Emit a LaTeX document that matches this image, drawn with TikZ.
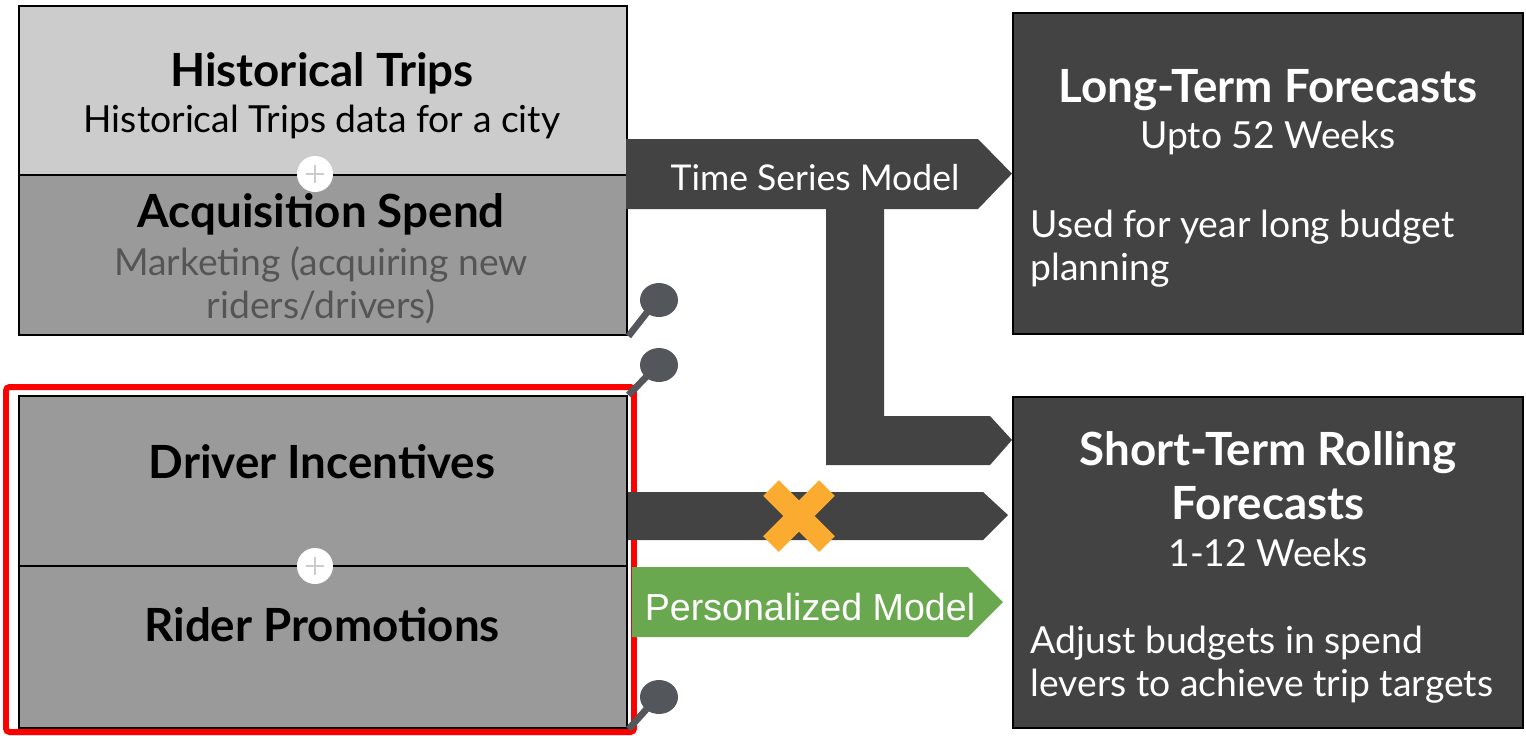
\documentclass[tikz,border=0pt]{standalone}
\usepackage{fontspec}
\setmainfont{Lato}
\newfontfamily\arialfont{Liberation Sans}
\usetikzlibrary{positioning, calc}

\definecolor{lightbox}{HTML}{CCCCCC}
\definecolor{midbox}{HTML}{9A9A9A}
\definecolor{darkbox}{HTML}{434343}
\definecolor{greenbar}{HTML}{6AA84F}
\definecolor{crossorange}{HTML}{FBAB2F}
\definecolor{pingray}{HTML}{53565B}
\definecolor{subgray}{HTML}{555555}

\begin{document}
\begin{tikzpicture}[x=0.01cm, y=-0.01cm, line join=miter,
    box/.style={draw=black, line width=0.6pt, anchor=north west, inner sep=0pt,
      minimum width=6.08cm},
    outbox/.style={draw=black, line width=0.6pt, fill=darkbox, anchor=north west,
      inner sep=0pt, minimum width=5.10cm},
    head/.style={font=\fontsize{13}{15}\selectfont\bfseries, inner sep=0pt},
    body/.style={font=\fontsize{10.6}{12.2}\selectfont, inner sep=0pt},
    plusdot/.style={circle, fill=white, minimum size=0.36cm, inner sep=0pt},
    plusbar/.style={draw=lightbox, line width=0.7pt},
    pinstem/.style={draw=pingray, line width=1.9pt},
    pinhead/.style={fill=pingray}]
  \useasboundingbox (0,0) rectangle (1526,735);

  % ================= inputs (left column) =================
  \node[box, fill=lightbox, minimum height=1.69cm] (hist) at (18,5) {};
  \node[box, fill=midbox, minimum height=1.60cm] (acq) at (18,174) {};
  \node[head] (histT) at (322,73) {Historical Trips};
  \node[body] (histS) at (322,122) {Historical Trips data for a city};
  \node[head] (acqT) at (321,214) {Acquisition Spend};
  \node[body, text=subgray, align=center] (acqS) at (321,285)
      {Marketing (acquiring new\\riders/drivers)};
  \node[plusdot] (plusA) at (315,174) {};
  \draw[plusbar] ($(plusA)+(-9,0)$) -- ($(plusA)+(9,0)$);
  \draw[plusbar] ($(plusA)+(0,-9)$) -- ($(plusA)+(0,9)$);

  % spend levers, framed in red
  \node[box, fill=midbox, minimum height=1.70cm] (drv) at (18,395) {};
  \node[box, fill=midbox, minimum height=1.62cm] (rid) at (18,565) {};
  \node[head] (drvT) at (322,462) {Driver Incentives};
  \node[head] (ridT) at (322,625) {Rider Promotions};
  \node[plusdot] (plusB) at (315,566) {};
  \draw[plusbar] ($(plusB)+(-9,0)$) -- ($(plusB)+(9,0)$);
  \draw[plusbar] ($(plusB)+(0,-9)$) -- ($(plusB)+(0,9)$);
  \draw[red, line width=1.7pt, rounded corners=1pt] (6,387) rectangle (634,732);

  % pins
  \draw[pinstem] (acq.south east) -- (652,306);
  \fill[pinhead] (659,300) ellipse (19 and 17);
  \draw[pinstem] (drv.north east) -- (652,371);
  \fill[pinhead] (659,365) ellipse (19 and 17);
  \draw[pinstem] (rid.south east) -- (652,703);
  \fill[pinhead] (659,697) ellipse (19 and 17);

  % ================= outputs (right column) =================
  \node[outbox, minimum height=3.21cm] (lterm) at (1012,12) {};
  \node[outbox, minimum height=3.31cm] (sterm) at (1012,396) {};
  \node[head, text=white] (ltermT) at (1268,90) {Long-Term Forecasts};
  \node[body, text=white] (ltermS) at (1268,138) {Upto 52 Weeks};
  \node[body, text=white, align=left, anchor=west] (ltermB) at (1030,249)
      {Used for year long budget\\planning};
  \node[head, text=white, align=center, font=\fontsize{13}{15.4}\selectfont\bfseries]
      (stermT) at (1268,476) {Short-Term Rolling\\Forecasts};
  \node[body, text=white] (stermS) at (1268,553) {1-12 Weeks};
  \node[body, text=white, align=left, anchor=west] (stermB) at (1030,665)
      {Adjust budgets in spend\\levers to achieve trip targets};

  % ================= models =================
  % time series arrow, branching down to the rolling forecasts
  \fill[darkbox] (626,139) -- (978,139) -- (lterm.west) -- (978,209) -- (884,209)
      -- (884,416) -- (990,416) -- (1012,440) -- (990,465) -- (826,465)
      -- (826,209) -- (626,209) -- cycle;
  \node[body, text=white, font=\fontsize{10.1}{12}\selectfont] (tsm) at (815,178)
      {Time Series Model};

  % direct lever arrow, crossed out
  \fill[darkbox] (628,492) -- (983,492) -- (1008,515) -- (983,540) -- (628,540) -- cycle;
  \draw[crossorange, line width=6.3pt] (771,488) -- (827,544);
  \draw[crossorange, line width=6.3pt] (771,544) -- (827,488);

  % personalized model arrow
  \fill[greenbar] (632,567) -- (968,567) -- (1003,602) -- (968,637) -- (632,637) -- cycle;
  \node[font=\arialfont\fontsize{10.7}{13}\selectfont, text=white, inner sep=0pt]
      (pm) at (810,607) {Personalized Model};
\end{tikzpicture}
\end{document}
